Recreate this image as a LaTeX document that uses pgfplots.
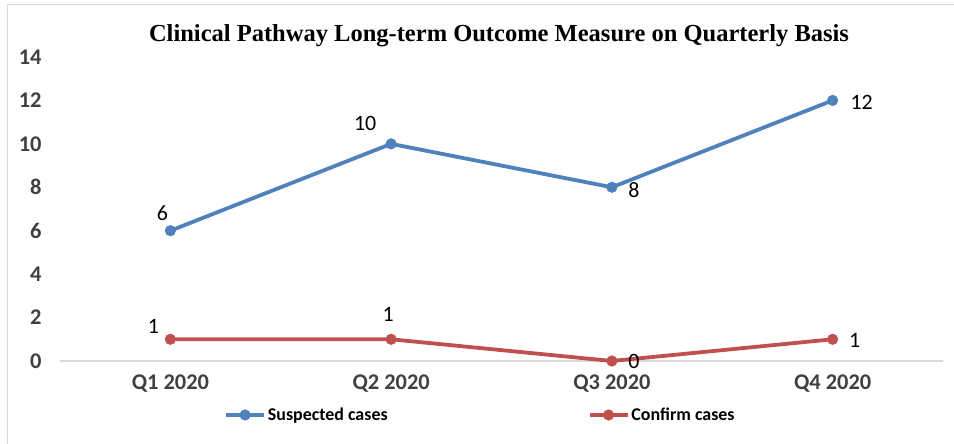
\documentclass[border=0pt]{standalone}
\usepackage{pgfplots}
\pgfplotsset{compat=1.18}
\usepackage{fontspec}
\setmainfont{Carlito}
\newfontfamily\titlefont{Liberation Serif}
\usetikzlibrary{calc}
\definecolor{sblue}{HTML}{4F81BD}
\definecolor{cred}{HTML}{C0504D}
\definecolor{axgray}{HTML}{D9D9D9}
\definecolor{tickgray}{HTML}{404040}
\begin{document}
\begin{tikzpicture}
\begin{axis}[
 scale only axis, width=883bp, height=304bp,
 xmin=-0.5, xmax=3.5, ymin=0, ymax=14,
 xtick={0,1,2,3}, xticklabels={Q1 2020,Q2 2020,Q3 2020,Q4 2020},
 ytick={0,2,...,14},
 axis lines*=left,
 x axis line style={draw=axgray, line width=1.2bp},
 y axis line style={draw=none},
 major tick length=0pt,
 tick label style={font=\fontsize{22.5}{26}\selectfont\bfseries, text=tickgray},
 /pgf/number format/assume math mode=true,
 yticklabel style={xshift=-15bp},
 xticklabel style={yshift=-10bp},
 clip=false,
 legend columns=2,
 legend style={draw=none, fill=none, inner sep=0pt, font=\fontsize{18}{21}\selectfont\bfseries, at={(0.1857,-0.1776)}, anchor=west, /tikz/every even column/.append style={column sep=198bp}},
 legend image code/.code={\draw[mark repeat=2,mark phase=2,#1] plot coordinates {(0bp,0bp) (19bp,0bp) (38bp,0bp)};},
 every axis plot/.append style={line width=3.8bp, mark=*, mark size=5.3bp, mark options={solid, line width=0.5bp}},
]
\addplot[color=sblue] coordinates {(0,6)(1,10)(2,8)(3,12)};
\addlegendentry{Suspected cases}
\addplot[color=cred] coordinates {(0,1)(1,1)(2,0)(3,1)};
\addlegendentry{Confirm cases}
\begin{scope}[every node/.style={font=\fontsize{22}{26}\selectfont, text=black}]
\node[xshift=-8bp, yshift=18bp] at (axis cs:0,6) {6};
\node[xshift=-26bp, yshift=20bp] at (axis cs:1,10) {10};
\node[xshift=22bp, yshift=-3bp] at (axis cs:2,8) {8};
\node[xshift=29bp, yshift=-2bp] at (axis cs:3,12) {12};
\node[xshift=-17bp, yshift=13bp] at (axis cs:0,1) {1};
\node[xshift=-3bp, yshift=25bp] at (axis cs:1,1) {1};
\node[xshift=22bp, yshift=0bp] at (axis cs:2,0) {0};
\node[xshift=22bp, yshift=-1bp] at (axis cs:3,1) {1};
\end{scope}
\coordinate (ll) at (rel axis cs:0,0);
\end{axis}
\node[font=\titlefont\bfseries\fontsize{24.6}{28}\selectfont] at ($(ll)+(439bp,325bp)$) {Clinical Pathway Long-term Outcome Measure on Quarterly Basis};
\draw[axgray, line width=1bp] ($(ll)+(-52bp,356bp)$) rectangle ($(ll)+(900bp,-90bp)$);
\pgfresetboundingbox
\path[use as bounding box] ($(ll)+(-60bp,-83bp)$) rectangle ($(ll)+(894bp,361bp)$);
\end{tikzpicture}
\end{document}
